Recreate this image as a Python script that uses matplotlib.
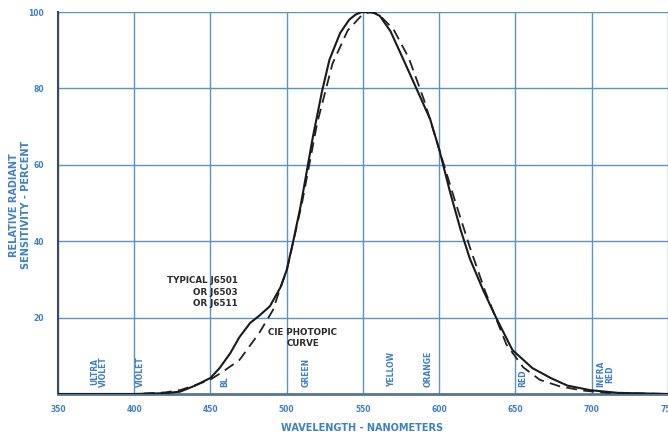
import matplotlib
matplotlib.use("Agg")
import matplotlib.pyplot as plt

# Typical J6501 / J6503 / J6511 relative radiant sensitivity (percent)
detector_nm = [350, 380, 400, 420, 430, 440, 450, 456, 463, 469, 476, 482, 489,
               496, 500, 504, 509, 513, 517, 523, 528, 535, 541, 545, 549, 553,
               557, 561, 568, 576, 585, 594, 600, 607, 614, 620, 629, 638, 648,
               661, 673, 684, 699, 717, 750]
detector_pct = [0, 0, 0, 0.2, 0.6, 2.2, 4.2, 6.8, 10.7, 14.9, 18.6, 20.5, 23.0,
                28.0, 32.5, 39.5, 49.0, 58.0, 67.0, 79.0, 87.5, 94.5, 98.0, 99.3,
                100, 100, 99.8, 99.0, 95.0, 88.0, 80.0, 72.0, 64.0, 53.0, 43.0,
                35.5, 27.0, 19.4, 11.5, 6.8, 4.2, 2.2, 1.0, 0.3, 0]

# CIE photopic luminosity curve (percent)
cie_nm = [350, 400, 420, 430, 440, 450, 458, 469, 482, 491, 496, 500, 510, 520,
          530, 540, 550, 555, 560, 570, 580, 590, 600, 610, 620, 630, 644, 655,
          666, 679, 694, 710, 750]
cie_pct = [0, 0, 0.4, 1.0, 2.3, 3.8, 5.8, 8.9, 16.0, 22.0, 28.0, 32.3, 50.0,
           71.0, 86.5, 95.2, 99.5, 100, 99.5, 95.5, 88.0, 77.0, 64.0, 51.0, 38.5,
           27.0, 13.0, 7.0, 3.7, 2.0, 0.9, 0.3, 0]

x_ticks = [350, 400, 450, 500, 550, 600, 650, 700, 750]
y_ticks = [20, 40, 60, 80, 100]

# Spectral band names and where they sit along the wavelength axis
band_names = ["ULTRA\nVIOLET", "VIOLET", "BL", "GREEN", "YELLOW", "ORANGE",
              "RED", "INFRA\nRED"]
band_nm = [377, 404, 459.5, 513, 569, 592.5, 655, 709]

BLUE_TEXT = "#3f80c4"
GRID = "#5b93c2"

fig = plt.figure(figsize=(6.68, 4.38), dpi=100, facecolor="white")
ax = fig.add_axes([0.0868, 0.1005, 0.9132, 0.872])
ax.set_xlim(350, 750)
ax.set_ylim(0, 100)

ax.set_xticks(x_ticks)
ax.set_yticks(y_ticks)
ax.set_xticklabels([str(v) for v in x_ticks])
ax.set_yticklabels([str(v) for v in y_ticks])
ax.tick_params(length=0, colors=BLUE_TEXT, labelsize=5.5)
for lbl in ax.get_xticklabels() + ax.get_yticklabels():
    lbl.set_fontweight("bold")
ax.tick_params(axis="x", pad=8)
ax.tick_params(axis="y", pad=10)

ax.grid(True, color=GRID, lw=1.0)
ax.set_axisbelow(True)

for side in ("top", "right"):
    ax.spines[side].set_visible(False)
ax.spines["left"].set_color("#3a4a58")
ax.spines["left"].set_linewidth(1.5)
ax.spines["bottom"].set_color("#55768f")
ax.spines["bottom"].set_linewidth(2.0)

ax.plot(cie_nm, cie_pct, color="#222222", lw=1.3, dashes=(6, 3.5), zorder=3,
        solid_joinstyle="round", dash_joinstyle="round")
ax.plot(detector_nm, detector_pct, color="#1a1a1a", lw=1.5, zorder=4,
        solid_joinstyle="round")

for name, nm in zip(band_names, band_nm):
    ax.text(nm, 1.8, name, rotation=90, ha="center", va="bottom",
            color=BLUE_TEXT, fontsize=5.5, fontweight="bold",
            multialignment="center", linespacing=1.0, zorder=2)

ax.text(468, 26.7, "TYPICAL J6501\nOR J6503\nOR J6511", ha="right",
        va="center", multialignment="right", color="#2a2a2a", fontsize=6.3,
        fontweight="bold", linespacing=1.35, zorder=5)
ax.text(510.5, 14.7, "CIE PHOTOPIC\nCURVE", ha="center", va="center",
        multialignment="center", color="#2a2a2a", fontsize=6.3,
        fontweight="bold", linespacing=1.3, zorder=5)

fig.text(0.03, 0.532, "RELATIVE RADIANT\nSENSITIVITY - PERCENT", rotation=90,
         ha="center", va="center", multialignment="center", color=BLUE_TEXT,
         fontsize=7, fontweight="bold", linespacing=1.25)
fig.text(0.542, 0.023, "WAVELENGTH - NANOMETERS", ha="center", va="center",
         color=BLUE_TEXT, fontsize=7, fontweight="bold")

fig.savefig("out.png", dpi=100, facecolor="white")
